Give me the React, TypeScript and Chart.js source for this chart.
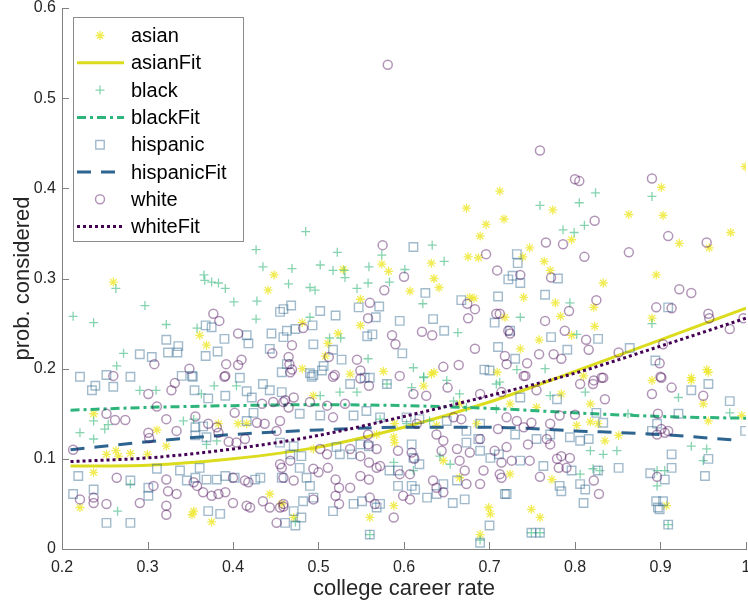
import React, { useEffect, useRef } from 'react';
import { Chart, registerables } from 'chart.js';
Chart.register(...registerables);

type P = [number, number];

const asianPts: P[] = [
  [0.999,0.424],[0.712,0.397],[0.901,0.401],[0.774,0.376],[0.717,0.366],[0.863,0.371],[0.903,0.370],[0.673,0.378],
  [0.796,0.343],[0.922,0.339],[0.957,0.334],[0.982,0.351],[0.747,0.334],[0.739,0.324],[0.764,0.319],[0.771,0.309],
  [0.895,0.304],[0.833,0.295],[0.740,0.279],[0.777,0.273],[0.822,0.268],[0.783,0.258],[0.718,0.257],[0.890,0.256],
  [0.823,0.247],[0.796,0.237],[0.758,0.232],[0.736,0.222],[0.954,0.199],[0.936,0.190],[0.810,0.192],
  [0.696,0.360],[0.689,0.347],[0.675,0.324],[0.687,0.323],[0.632,0.317],[0.574,0.316],[0.582,0.308],[0.529,0.310],
  [0.635,0.300],[0.641,0.290],[0.607,0.286],[0.549,0.277],[0.677,0.279],[0.682,0.278],[0.549,0.248],[0.481,0.251],
  [0.523,0.239],[0.511,0.228],[0.508,0.214],[0.481,0.200],[0.576,0.197],[0.709,0.196],[0.635,0.196],
  [0.448,0.304],[0.441,0.287],[0.260,0.296],[0.361,0.237],[0.369,0.226],
  [0.237,0.150],[0.311,0.132],[0.322,0.114],[0.263,0.109],[0.252,0.105],[0.266,0.103],[0.280,0.106],[0.300,0.105],
  [0.383,0.139],[0.406,0.139],[0.416,0.139],[0.221,0.046],[0.237,0.085],[0.352,0.038],[0.354,0.042],[0.375,0.030],
  [0.443,0.061],[0.457,0.050],
  [0.471,0.035],[0.560,0.035],[0.588,0.048],[0.665,0.079],[0.699,0.046],[0.701,0.039],[0.689,0.016],[0.646,0.098],
  [0.494,0.111],[0.588,0.124],[0.589,0.118],[0.494,0.170],[0.537,0.194],[0.623,0.181],[0.632,0.194],[0.568,0.127],
  [0.589,0.139],[0.638,0.137],[0.665,0.161],[0.685,0.139],
  [0.755,0.157],[0.784,0.172],[0.818,0.161],[0.890,0.187],[0.936,0.187],[0.956,0.196],[0.950,0.161],[0.956,0.142],
  [0.724,0.161],[0.802,0.137],[0.818,0.141],[0.827,0.139],[0.851,0.126],[0.773,0.077],[0.724,0.083],[0.907,0.048],
  [0.749,0.044],[0.759,0.035],[0.835,0.120],[0.995,0.148],
];

const blackPts: P[] = [
  [0.890,0.391],[0.824,0.395],[0.805,0.384],[0.759,0.381],[0.786,0.354],[0.799,0.351],[0.811,0.359],[0.794,0.273],
  [0.736,0.257],[0.890,0.250],[0.802,0.238],[0.765,0.200],[0.732,0.199],
  [0.485,0.352],[0.633,0.337],[0.522,0.329],[0.647,0.319],[0.574,0.326],[0.469,0.311],[0.502,0.315],[0.517,0.309],
  [0.530,0.309],[0.531,0.301],[0.559,0.313],[0.601,0.310],[0.558,0.295],[0.583,0.296],[0.465,0.294],[0.490,0.290],
  [0.496,0.287],[0.545,0.289],[0.622,0.272],[0.490,0.257],[0.663,0.240],[0.513,0.234],[0.526,0.234],[0.558,0.211],
  [0.611,0.201],[0.623,0.191],
  [0.427,0.332],[0.435,0.313],[0.366,0.304],[0.367,0.298],[0.375,0.296],[0.383,0.295],[0.391,0.289],[0.401,0.274],
  [0.428,0.275],[0.427,0.255],[0.263,0.289],[0.297,0.270],[0.213,0.258],[0.237,0.251],[0.322,0.249],[0.358,0.245],
  [0.272,0.217],[0.264,0.203],
  [0.291,0.176],[0.310,0.176],[0.363,0.172],[0.378,0.181],[0.404,0.181],[0.221,0.129],[0.237,0.142],[0.237,0.122],
  [0.250,0.133],[0.254,0.138],[0.354,0.144],[0.342,0.142],[0.369,0.116],[0.381,0.120],[0.265,0.042],[0.280,0.072],
  [0.642,0.103],[0.654,0.094],[0.588,0.096],[0.611,0.087],[0.502,0.170],[0.525,0.174],[0.545,0.174],[0.580,0.183],
  [0.609,0.179],[0.623,0.190],[0.650,0.187],[0.665,0.172],[0.708,0.183],[0.572,0.144],[0.603,0.139],[0.630,0.142],
  [0.658,0.164],[0.673,0.157],[0.708,0.155],
  [0.712,0.185],[0.771,0.170],[0.812,0.174],[0.862,0.150],[0.921,0.168],[0.981,0.151],[0.936,0.114],[0.954,0.111],
  [0.950,0.098],[0.821,0.089],[0.829,0.087],[0.896,0.087],[0.905,0.087],[0.896,0.070],[0.849,0.109],[0.818,0.109],
  [0.833,0.105],[0.806,0.083],[0.560,0.016],[0.689,0.010],[0.749,0.018],[0.759,0.018],[0.909,0.027],[0.473,0.030],
];

const hispanicPts: P[] = [
  [0.732,0.327],[0.733,0.317],[0.722,0.299],[0.736,0.295],[0.727,0.303],[0.780,0.300],[0.765,0.282],[0.909,0.268],
  [0.772,0.235],[0.827,0.233],[0.791,0.221],[0.864,0.223],[0.730,0.211],[0.894,0.209],
  [0.611,0.335],[0.625,0.284],[0.710,0.280],[0.667,0.276],[0.571,0.269],[0.547,0.268],[0.468,0.270],[0.459,0.266],
  [0.455,0.263],[0.502,0.264],[0.520,0.259],[0.567,0.257],[0.595,0.253],[0.634,0.255],[0.706,0.251],[0.493,0.248],
  [0.473,0.244],[0.463,0.242],[0.647,0.242],[0.557,0.236],[0.563,0.238],[0.598,0.217],[0.494,0.227],[0.459,0.235],
  [0.517,0.221],[0.527,0.210],[0.504,0.198],[0.506,0.203],[0.494,0.193],[0.694,0.199],[0.710,0.224],[0.724,0.242],
  [0.560,0.190],[0.554,0.190],[0.492,0.191],
  [0.368,0.248],[0.375,0.246],[0.322,0.232],[0.336,0.225],[0.324,0.218],[0.335,0.218],[0.291,0.216],[0.390,0.233],
  [0.416,0.237],[0.418,0.228],[0.445,0.239],[0.305,0.213],[0.368,0.214],[0.382,0.219],[0.352,0.192],[0.340,0.192],
  [0.443,0.222],[0.221,0.191],[0.252,0.193],[0.280,0.191],[0.457,0.196],[0.463,0.205],
  [0.235,0.176],[0.239,0.181],[0.260,0.180],[0.353,0.191],[0.355,0.176],[0.371,0.167],[0.391,0.170],[0.408,0.190],
  [0.416,0.175],[0.422,0.168],[0.435,0.183],[0.443,0.176],[0.457,0.174],[0.356,0.135],[0.365,0.136],[0.356,0.126],
  [0.369,0.124],[0.416,0.142],[0.424,0.151],[0.219,0.081],[0.213,0.061],[0.237,0.066],[0.280,0.076],[0.252,0.029],
  [0.280,0.029],[0.301,0.059],[0.301,0.068],[0.311,0.089],[0.338,0.087],[0.346,0.076],[0.356,0.079],[0.361,0.090],
  [0.371,0.042],[0.385,0.039],[0.369,0.077],[0.381,0.077],[0.391,0.081],[0.402,0.079],[0.426,0.077],[0.432,0.079],
  [0.457,0.079],
  [0.478,0.090],[0.486,0.079],[0.490,0.070],[0.494,0.057],[0.482,0.053],[0.471,0.042],[0.480,0.035],[0.461,0.029],
  [0.473,0.026],[0.517,0.042],[0.541,0.050],[0.551,0.053],[0.560,0.016],[0.568,0.046],[0.572,0.050],[0.593,0.070],
  [0.609,0.070],[0.613,0.066],[0.583,0.087],[0.593,0.087],[0.627,0.057],[0.638,0.061],[0.646,0.072],[0.662,0.076],
  [0.657,0.051],[0.671,0.055],[0.700,0.026],[0.689,0.007],[0.701,0.101],[0.711,0.105],[0.718,0.061],[0.549,0.116],
  [0.559,0.114],[0.521,0.113],[0.525,0.105],[0.539,0.105],[0.467,0.105],[0.480,0.103],[0.455,0.118],[0.471,0.114],
  [0.673,0.118],[0.687,0.122],[0.689,0.109],[0.618,0.094],[0.609,0.116],[0.611,0.101],[0.478,0.150],[0.502,0.148],
  [0.541,0.148],[0.556,0.153],[0.572,0.146],[0.603,0.146],[0.618,0.144],[0.650,0.142],[0.673,0.131],[0.689,0.139],
  [0.490,0.195],[0.537,0.183],[0.580,0.183],[0.700,0.198],
  [0.736,0.168],[0.779,0.166],[0.936,0.176],[0.956,0.183],[0.981,0.164],[0.921,0.150],[0.999,0.131],[0.730,0.127],
  [0.755,0.122],[0.771,0.127],[0.794,0.124],[0.806,0.120],[0.816,0.122],[0.825,0.151],[0.833,0.140],[0.890,0.131],
  [0.896,0.139],[0.913,0.105],[0.913,0.090],[0.952,0.081],[0.956,0.100],[0.736,0.098],[0.763,0.092],[0.782,0.070],
  [0.784,0.064],[0.796,0.087],[0.806,0.072],[0.812,0.066],[0.810,0.051],[0.827,0.087],[0.851,0.090],[0.888,0.084],
  [0.905,0.077],[0.895,0.053],[0.903,0.053],[0.897,0.046],[0.720,0.061],[0.909,0.027],[0.899,0.044],[0.749,0.018],
  [0.759,0.018],
];

const whitePts: P[] = [
  [0.759,0.442],[0.800,0.410],[0.805,0.408],[0.890,0.411],[0.823,0.364],[0.581,0.537],[0.766,0.340],[0.786,0.338],
  [0.811,0.324],[0.863,0.329],[0.909,0.347],[0.954,0.340],[0.772,0.301],[0.736,0.304],[0.922,0.288],[0.936,0.284],
  [0.825,0.276],[0.913,0.267],[0.895,0.268],[0.793,0.264],[0.765,0.253],[0.712,0.261],[0.956,0.261],[0.957,0.256],
  [0.788,0.242],[0.722,0.242],[0.724,0.239],[0.981,0.244],[0.813,0.232],[0.816,0.221],[0.851,0.218],[0.903,0.227],
  [0.718,0.214],[0.744,0.206],[0.758,0.216],[0.775,0.216],[0.784,0.211],[0.899,0.206],[0.740,0.192],[0.900,0.191],
  [0.831,0.190],[0.822,0.187],[0.997,0.256],
  [0.575,0.337],[0.696,0.327],[0.709,0.309],[0.600,0.302],[0.577,0.287],[0.674,0.272],[0.683,0.266],[0.675,0.256],
  [0.560,0.273],[0.558,0.256],[0.708,0.261],[0.482,0.245],[0.621,0.241],[0.633,0.237],[0.586,0.237],[0.590,0.227],
  [0.469,0.226],[0.512,0.213],[0.545,0.210],[0.549,0.198],[0.465,0.213],[0.466,0.205],[0.469,0.199],[0.519,0.193],
  [0.595,0.192],[0.646,0.202],[0.664,0.204],[0.683,0.222],[0.720,0.205],
  [0.377,0.261],[0.384,0.253],[0.406,0.239],[0.308,0.205],[0.392,0.205],[0.391,0.192],[0.410,0.210],[0.406,0.204],
  [0.349,0.200],[0.446,0.217],[0.260,0.192],
  [0.301,0.172],[0.328,0.176],[0.332,0.184],[0.390,0.191],[0.434,0.161],[0.447,0.163],[0.461,0.165],[0.213,0.110],
  [0.252,0.150],[0.262,0.143],[0.274,0.143],[0.301,0.129],[0.302,0.123],[0.311,0.158],[0.322,0.144],[0.334,0.131],
  [0.356,0.147],[0.371,0.139],[0.381,0.135],[0.383,0.129],[0.395,0.119],[0.404,0.118],[0.414,0.122],[0.428,0.140],
  [0.437,0.139],[0.451,0.131],[0.402,0.151],[0.221,0.055],[0.237,0.057],[0.237,0.051],[0.264,0.079],[0.252,0.050],
  [0.291,0.051],[0.307,0.070],[0.322,0.077],[0.324,0.064],[0.334,0.061],[0.322,0.048],[0.322,0.038],[0.354,0.074],
  [0.358,0.070],[0.365,0.063],[0.375,0.059],[0.383,0.061],[0.391,0.063],[0.400,0.051],[0.416,0.048],[0.420,0.046],
  [0.400,0.079],[0.414,0.076],[0.418,0.074],[0.435,0.053],[0.443,0.046],[0.451,0.029],[0.459,0.047],[0.457,0.090],
  [0.467,0.098],[0.455,0.094],[0.459,0.079],[0.471,0.076],[0.494,0.089],[0.500,0.085],[0.511,0.090],[0.494,0.055],
  [0.455,0.046],[0.459,0.050],[0.520,0.077],[0.524,0.068],[0.520,0.059],[0.524,0.050],[0.537,0.068],[0.549,0.081],
  [0.559,0.077],[0.568,0.090],[0.560,0.057],[0.566,0.050],[0.588,0.035],[0.595,0.083],[0.607,0.083],[0.612,0.100],
  [0.599,0.059],[0.607,0.055],[0.638,0.068],[0.634,0.076],[0.646,0.063],[0.665,0.098],[0.671,0.087],[0.673,0.072],
  [0.689,0.072],[0.693,0.087],[0.712,0.083],[0.644,0.109],[0.662,0.111],[0.677,0.107],[0.593,0.109],[0.609,0.107],
  [0.537,0.111],[0.549,0.103],[0.559,0.096],[0.572,0.092],[0.502,0.111],[0.510,0.105],[0.706,0.109],[0.714,0.096],
  [0.467,0.196],[0.517,0.191],[0.549,0.189],[0.559,0.181],[0.611,0.172],[0.626,0.170],[0.651,0.179],[0.689,0.172],
  [0.714,0.174],[0.490,0.163],[0.510,0.159],[0.531,0.161],[0.517,0.146],[0.455,0.142],[0.465,0.157],[0.471,0.168],
  [0.459,0.163],[0.558,0.127],[0.558,0.116],[0.568,0.111],[0.615,0.139],[0.638,0.127],[0.646,0.120],[0.658,0.146],
  [0.667,0.144],[0.689,0.122],[0.710,0.133],
  [0.742,0.192],[0.755,0.176],[0.806,0.183],[0.821,0.183],[0.833,0.190],[0.835,0.166],[0.890,0.172],[0.901,0.190],
  [0.913,0.179],[0.897,0.150],[0.950,0.170],[0.720,0.146],[0.732,0.142],[0.740,0.135],[0.749,0.140],[0.771,0.139],
  [0.782,0.148],[0.800,0.149],[0.901,0.133],[0.905,0.129],[0.909,0.131],[0.896,0.127],[0.720,0.113],[0.726,0.098],
  [0.745,0.116],[0.747,0.098],[0.767,0.122],[0.771,0.116],[0.779,0.100],[0.784,0.103],[0.794,0.101],[0.714,0.079],
  [0.759,0.080],[0.781,0.090],[0.790,0.090],[0.822,0.076],[0.828,0.061],[0.896,0.080],
];

const fitX = [0.21, 0.3, 0.4, 0.5, 0.6, 0.7, 0.8, 0.9, 1.0];
const asianFitY = [0.092, 0.093, 0.100, 0.113, 0.135, 0.163, 0.197, 0.232, 0.267];
const blackFitY = [0.154, 0.157, 0.159, 0.160, 0.159, 0.156, 0.151, 0.147, 0.145];
const hispanicFitX = [0.21, 0.3, 0.4, 0.5, 0.6, 0.7, 0.8, 0.9, 0.985];
const hispanicFitY = [0.110, 0.119, 0.127, 0.132, 0.135, 0.135, 0.131, 0.127, 0.121];
const whiteFitY = [0.097, 0.101, 0.111, 0.126, 0.147, 0.170, 0.195, 0.225, 0.256];

const xTickLabels = ['0.2', '0.3', '0.4', '0.5', '0.6', '0.7', '0.8', '0.9', '1'];
const yTickLabels = ['0', '0.1', '0.2', '0.3', '0.4', '0.5', '0.6'];

const FONT = '"Liberation Sans", Arial, Helvetica, sans-serif';
const AXIS_COLOR = '#808080';
const TEXT_COLOR = '#262626';

const C_ASIAN = 'rgba(236, 230, 30, 0.75)';
const C_BLACK = 'rgba(53, 183, 121, 0.6)';
const C_HISP = 'rgba(49, 104, 142, 0.45)';
const C_WHITE = 'rgba(68, 1, 84, 0.42)';

const pts = (a: P[]) => a.map(([x, y]) => ({ x, y }));
const line = (xs: number[], ys: number[]) => xs.map((x, i) => ({ x, y: ys[i] }));

function drawMarker(ctx: CanvasRenderingContext2D, style: string, x: number, y: number, r: number, color: string, lw: number) {
  ctx.save();
  ctx.strokeStyle = color;
  ctx.lineWidth = lw;
  ctx.beginPath();
  if (style === 'star') {
    for (let k = 0; k < 4; k++) {
      const a = (k * Math.PI) / 4;
      ctx.moveTo(x - Math.cos(a) * r, y - Math.sin(a) * r);
      ctx.lineTo(x + Math.cos(a) * r, y + Math.sin(a) * r);
    }
  } else if (style === 'cross') {
    ctx.moveTo(x - r, y); ctx.lineTo(x + r, y);
    ctx.moveTo(x, y - r); ctx.lineTo(x, y + r);
  } else if (style === 'rect') {
    const s = r * Math.SQRT1_2;
    ctx.rect(x - s, y - s, 2 * s, 2 * s);
  } else {
    ctx.arc(x, y, r, 0, Math.PI * 2);
  }
  ctx.stroke();
  ctx.restore();
}

export default function App() {
  const ref = useRef<HTMLCanvasElement | null>(null);
  useEffect(() => {
    if (!ref.current) return;

    const legendItems = [
      { label: 'asian', kind: 'marker', style: 'star', color: C_ASIAN, r: 4.5, lw: 1.3 },
      { label: 'asianFit', kind: 'line', color: '#dcdc1e', dash: [] as number[] },
      { label: 'black', kind: 'marker', style: 'cross', color: C_BLACK, r: 4.5, lw: 1.3 },
      { label: 'blackFit', kind: 'line', color: '#2db47a', dash: [9, 4, 3, 4] },
      { label: 'hispanic', kind: 'marker', style: 'rect', color: C_HISP, r: 6, lw: 1.4 },
      { label: 'hispanicFit', kind: 'line', color: '#2d6490', dash: [14, 10] },
      { label: 'white', kind: 'marker', style: 'circle', color: C_WHITE, r: 4.5, lw: 1.5 },
      { label: 'whiteFit', kind: 'line', color: '#440154', dash: [3, 3] },
    ];

    const customDraw = {
      id: 'customDraw',
      beforeDatasetsDraw(chart: any) {
        const ctx = chart.ctx as CanvasRenderingContext2D;
        const xs = chart.scales.x;
        const ys = chart.scales.y;
        const ca = chart.chartArea;
        ctx.save();
        ctx.strokeStyle = AXIS_COLOR;
        ctx.lineWidth = 1;
        ctx.beginPath();
        xs.ticks.forEach((t: any) => {
          const px = Math.round(xs.getPixelForValue(t.value)) + 0.5;
          ctx.moveTo(px, ca.bottom);
          ctx.lineTo(px, ca.bottom - 7);
        });
        ys.ticks.forEach((t: any) => {
          const py = Math.round(ys.getPixelForValue(t.value)) + 0.5;
          ctx.moveTo(ca.left, py);
          ctx.lineTo(ca.left + 7, py);
        });
        ctx.stroke();
        ctx.restore();
      },
      afterDraw(chart: any) {
        const ctx = chart.ctx as CanvasRenderingContext2D;
        const bx = 73.5, by = 17.5, bw = 170, bh = 224;
        ctx.save();
        ctx.fillStyle = '#ffffff';
        ctx.fillRect(bx, by, bw, bh);
        ctx.strokeStyle = '#8c8c8c';
        ctx.lineWidth = 1;
        ctx.strokeRect(bx, by, bw, bh);
        ctx.font = `20px ${FONT}`;
        ctx.textBaseline = 'middle';
        ctx.textAlign = 'left';
        legendItems.forEach((it: any, i: number) => {
          const cy = by + 18 + i * 27.3;
          if (it.kind === 'marker') {
            drawMarker(ctx, it.style, 100, cy, it.r, it.color, it.lw);
          } else {
            ctx.save();
            ctx.strokeStyle = it.color;
            ctx.lineWidth = 3;
            ctx.setLineDash(it.dash);
            ctx.beginPath();
            ctx.moveTo(77, cy);
            ctx.lineTo(124, cy);
            ctx.stroke();
            ctx.restore();
          }
          ctx.fillStyle = '#000000';
          ctx.fillText(it.label, 131, cy + 1);
        });
        ctx.restore();
      },
    };

    const chart = new Chart(ref.current, {
      type: 'scatter',
      data: {
        datasets: [
          { label: 'asian', data: pts(asianPts), pointStyle: 'star', pointRadius: 4.5, pointBorderWidth: 1.3, borderColor: C_ASIAN, backgroundColor: 'rgba(0,0,0,0)', order: 8 },
          { label: 'asianFit', data: line(fitX, asianFitY), showLine: true, pointRadius: 0, borderColor: '#dcdc1e', borderWidth: 3, cubicInterpolationMode: 'monotone', order: 7 },
          { label: 'black', data: pts(blackPts), pointStyle: 'cross', pointRadius: 4.5, pointBorderWidth: 1.3, borderColor: C_BLACK, backgroundColor: 'rgba(0,0,0,0)', order: 6 },
          { label: 'blackFit', data: line(fitX, blackFitY), showLine: true, pointRadius: 0, borderColor: '#2db47a', borderWidth: 3, borderDash: [9, 4, 3, 4], cubicInterpolationMode: 'monotone', order: 5 },
          { label: 'hispanic', data: pts(hispanicPts), pointStyle: 'rect', pointRadius: 6, pointBorderWidth: 1.4, borderColor: C_HISP, backgroundColor: 'rgba(0,0,0,0)', order: 4 },
          { label: 'hispanicFit', data: line(hispanicFitX, hispanicFitY), showLine: true, pointRadius: 0, borderColor: '#2d6490', borderWidth: 3, borderDash: [14, 10], cubicInterpolationMode: 'monotone', order: 3 },
          { label: 'white', data: pts(whitePts), pointStyle: 'circle', pointRadius: 4.5, pointBorderWidth: 1.5, borderColor: C_WHITE, backgroundColor: 'rgba(0,0,0,0)', order: 2 },
          { label: 'whiteFit', data: line(fitX, whiteFitY), showLine: true, pointRadius: 0, borderColor: '#440154', borderWidth: 3, borderDash: [3, 3], cubicInterpolationMode: 'monotone', order: 1 },
        ] as any,
      },
      options: {
        animation: false,
        responsive: false,
        maintainAspectRatio: false,
        layout: { autoPadding: false, padding: { top: 8, right: 2, left: 0, bottom: 0 } },
        plugins: { legend: { display: false }, tooltip: { enabled: false } },
        scales: {
          x: {
            type: 'linear',
            min: 0.2,
            max: 1,
            ticks: {
              stepSize: 0.1,
              autoSkip: false,
              maxRotation: 0,
              padding: 9,
              color: TEXT_COLOR,
              font: { family: FONT, size: 16 },
              callback: (_v: any, i: number) => xTickLabels[i],
            },
            grid: { display: false, drawTicks: false },
            border: { display: true, color: AXIS_COLOR, width: 1 },
            title: { display: true, text: 'college career rate', color: TEXT_COLOR, font: { family: FONT, size: 22 }, padding: { top: 0, bottom: 3 } },
            afterFit: (s: any) => { s.height = 56; s.paddingLeft = 0; s.paddingRight = 0; },
          },
          y: {
            type: 'linear',
            min: 0,
            max: 0.6,
            ticks: {
              stepSize: 0.1,
              autoSkip: false,
              padding: 6,
              color: TEXT_COLOR,
              font: { family: FONT, size: 16 },
              callback: (_v: any, i: number) => yTickLabels[i],
            },
            grid: { display: false, drawTicks: false },
            border: { display: true, color: AXIS_COLOR, width: 1 },
            title: { display: true, text: 'prob. considered', color: TEXT_COLOR, font: { family: FONT, size: 22 }, padding: { top: 10, bottom: 0 } },
            afterFit: (s: any) => { s.width = 62; s.paddingTop = 0; s.paddingBottom = 0; },
          },
        },
      } as any,
      plugins: [customDraw],
    });
    return () => chart.destroy();
  }, []);

  return (
    <div style={{ position: 'absolute', left: 0, top: 0, width: 748, height: 605, background: '#fff' }}>
      <canvas ref={ref} width={748} height={605} style={{ display: 'block', width: 748, height: 605 }} />
    </div>
  );
}
